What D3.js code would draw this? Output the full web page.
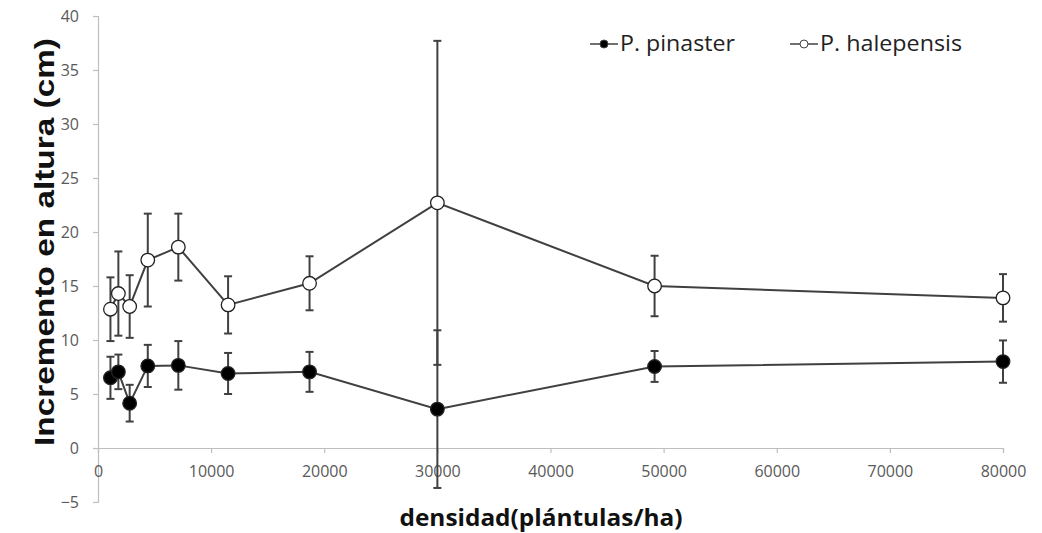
<!DOCTYPE html>
<html>
<head>
<meta charset="utf-8">
<script src="https://cdn.jsdelivr.net/npm/d3@7"></script>
<style>
  body { margin: 0; background: #fff; }
  svg { display: block; }
</style>
</head>
<body>
<div id="chart"></div>
<script>
// densities (plántulas/ha)
const densidad = [1100, 1800, 2800, 4400, 7100, 11500, 18700, 30000, 49200, 80000];

// mean height increment (cm) and error bar half-width
const pinaster     = [6.5, 7.05, 4.15, 7.6, 7.65, 6.9, 7.05, 3.6, 7.55, 8.0];
const pinasterErr  = [1.95, 1.6, 1.7, 1.95, 2.25, 1.9, 1.85, 7.3, 1.43, 1.96];
const halepensis    = [12.85, 14.3, 13.1, 17.4, 18.6, 13.25, 15.25, 22.7, 15.0, 13.9];
const halepensisErr = [2.95, 3.9, 2.9, 4.3, 3.1, 2.65, 2.5, 15.0, 2.8, 2.2];

const xTicks = [0, 10000, 20000, 30000, 40000, 50000, 60000, 70000, 80000];
const yTicks = [-5, 0, 5, 10, 15, 20, 25, 30, 35, 40];

const width = 1042, height = 533;
const svg = d3.select('#chart').append('svg')
    .attr('width', width)
    .attr('height', height);

const x = d3.scaleLinear().domain([0, 80000]).range([98, 1003]);
const y = d3.scaleLinear().domain([-5, 40]).range([502, 16]);

const axisColor = '#bfbfbf';
const labelColor = '#595959';
const lineColor = '#404040';

// y axis
const yAxis = svg.append('g')
    .attr('transform', `translate(${x(0)},0)`)
    .call(d3.axisLeft(y).tickValues(yTicks).tickSize(5).tickPadding(14));
yAxis.select('.domain').attr('stroke', axisColor).attr('stroke-width', 1.2);
yAxis.selectAll('.tick line').attr('stroke', axisColor).attr('stroke-width', 1.2);
yAxis.selectAll('.tick text')
    .attr('fill', labelColor)
    .style('font-family', '"Open Sans", sans-serif')
    .style('font-size', '16px');

// x axis sits on y = 0
const xAxis = svg.append('g')
    .attr('transform', `translate(0,${y(0)})`)
    .call(d3.axisBottom(x).tickValues(xTicks).tickFormat(d3.format('d')).tickSize(5).tickPadding(13));
xAxis.select('.domain').attr('stroke', axisColor).attr('stroke-width', 1.2);
xAxis.selectAll('.tick line').attr('stroke', axisColor).attr('stroke-width', 1.2);
xAxis.selectAll('.tick text')
    .attr('fill', labelColor)
    .style('font-family', '"Open Sans", sans-serif')
    .style('font-size', '16px');

// axis titles
svg.append('text')
    .attr('transform', `translate(54,${242}) rotate(-90)`)
    .attr('text-anchor', 'middle')
    .attr('textLength', 408)
    .attr('lengthAdjust', 'spacingAndGlyphs')
    .style('font-family', '"Liberation Sans", Arial, sans-serif')
    .style('font-weight', 'bold')
    .style('font-size', '28px')
    .attr('fill', '#111')
    .text('Incremento en altura (cm)');

svg.append('text')
    .attr('x', 541)
    .attr('y', 526)
    .attr('text-anchor', 'middle')
    .attr('textLength', 283)
    .attr('lengthAdjust', 'spacingAndGlyphs')
    .style('font-family', '"Open Sans", sans-serif')
    .style('font-weight', 'bold')
    .style('font-size', '24px')
    .attr('fill', '#111')
    .text('densidad(plántulas/ha)');

const series = [
    { name: 'P. pinaster', values: pinaster, err: pinasterErr, fill: '#000', textW: 115 },
    { name: 'P. halepensis', values: halepensis, err: halepensisErr, fill: '#fff', textW: 142 }
];

const line = d3.line()
    .x((d, i) => x(densidad[i]))
    .y(d => y(d));

series.forEach(s => {
    const g = svg.append('g');
    // error bars
    const eb = g.selectAll('.err')
        .data(s.values)
        .enter().append('g');
    eb.append('line')
        .attr('x1', (d, i) => x(densidad[i]))
        .attr('x2', (d, i) => x(densidad[i]))
        .attr('y1', (d, i) => y(d + s.err[i]))
        .attr('y2', (d, i) => y(d - s.err[i]))
        .attr('stroke', lineColor)
        .attr('stroke-width', 2);
    [1, -1].forEach(sign => {
        eb.append('line')
            .attr('x1', (d, i) => x(densidad[i]) - 4)
            .attr('x2', (d, i) => x(densidad[i]) + 4)
            .attr('y1', (d, i) => y(d + sign * s.err[i]))
            .attr('y2', (d, i) => y(d + sign * s.err[i]))
            .attr('stroke', lineColor)
            .attr('stroke-width', 2);
    });
});

series.forEach(s => {
    const g = svg.append('g');
    g.append('path')
        .datum(s.values)
        .attr('d', line)
        .attr('fill', 'none')
        .attr('stroke', lineColor)
        .attr('stroke-width', 2);
    g.selectAll('circle')
        .data(s.values)
        .enter().append('circle')
        .attr('cx', (d, i) => x(densidad[i]))
        .attr('cy', d => y(d))
        .attr('r', 6.8)
        .attr('fill', s.fill)
        .attr('stroke', '#222')
        .attr('stroke-width', 1.3);
});

// legend
const legendX = [590, 790];
series.forEach((s, i) => {
    const lg = svg.append('g').attr('transform', `translate(${legendX[i]},44)`);
    lg.append('line')
        .attr('x1', 0).attr('x2', 28)
        .attr('stroke', lineColor)
        .attr('stroke-width', 1.5);
    lg.append('circle')
        .attr('cx', 14).attr('r', 4)
        .attr('fill', s.fill)
        .attr('stroke', '#444')
        .attr('stroke-width', 1);
    lg.append('text')
        .attr('x', 30)
        .attr('dy', '0.35em')
        .attr('textLength', s.textW)
        .attr('lengthAdjust', 'spacingAndGlyphs')
        .style('font-family', '"Open Sans", sans-serif')
        .style('font-size', '21px')
        .attr('fill', '#222')
        .text(s.name);
});
</script>
</body>
</html>
